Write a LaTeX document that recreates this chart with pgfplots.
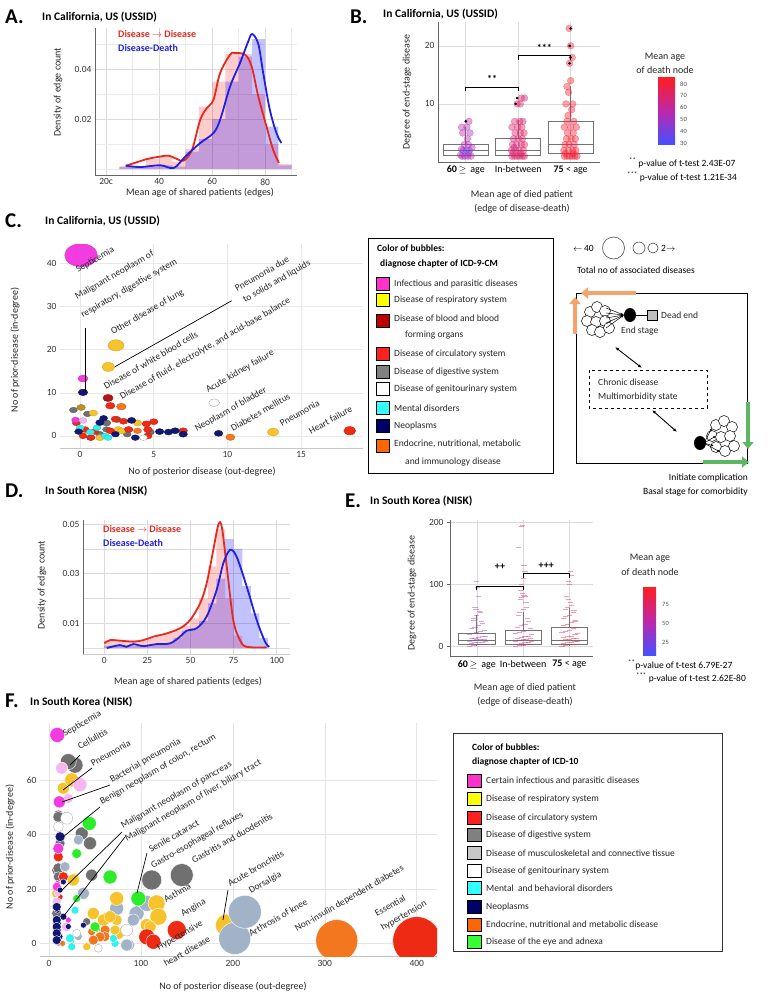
\documentclass[border=0pt]{standalone}
\usepackage{pgfplots}
\pgfplotsset{compat=1.18}
\usepgfplotslibrary{statistics}
\usetikzlibrary{arrows.meta}
\usepackage{fontspec}
\setmainfont{Carlito}
\newcommand{\fs}[1]{\fontsize{#1}{#1}\selectfont}
\definecolor{cMag}{HTML}{F23CE0}
\definecolor{cPinkL}{HTML}{F6B6EE}
\definecolor{cYel}{HTML}{F6C32C}
\definecolor{cRed}{HTML}{EE2A14}
\definecolor{cDRed}{HTML}{B3161A}
\definecolor{cGry}{HTML}{707070}
\definecolor{cStl}{HTML}{A2B3C8}
\definecolor{cNav}{HTML}{101870}
\definecolor{cCya}{HTML}{30F0F0}
\definecolor{cOrg}{HTML}{F2771E}
\definecolor{cGrn}{HTML}{2CEC2C}
\definecolor{lMag}{HTML}{FF33CC}
\definecolor{lYel}{HTML}{FFFF00}
\definecolor{lDRed}{HTML}{C00000}
\definecolor{lRed}{HTML}{FF2020}
\definecolor{lGry}{HTML}{808080}
\definecolor{lLGry}{HTML}{C8C8C8}
\definecolor{lCya}{HTML}{33FFFF}
\definecolor{lNav}{HTML}{000066}
\definecolor{lOrg}{HTML}{FF6600}
\definecolor{lGrn}{HTML}{33FF33}
\definecolor{kdeR}{HTML}{E8281E}
\definecolor{kdeB}{HTML}{2020E0}
\definecolor{cbB}{RGB}{70,80,255}
\definecolor{cbP}{RGB}{190,40,170}
\definecolor{cbR}{RGB}{255,30,30}
\definecolor{arO}{HTML}{F4A46A}
\definecolor{arG}{HTML}{5DB760}
\pgfplotsset{
  base/.style={scale only axis, anchor=south west,
    /pgf/number format/assume math mode=true,
    tick label style={font=\fs{9.5}, text=black!80},
    grid style={black!14, line width=0.6pt},
    minor grid style={black!8, line width=0.5pt},
    major tick length=0pt, minor tick length=0pt,
    axis line style={black!60, line width=0.9pt},
    scaled ticks=false, clip marker paths=true},
  bub/.style 2 args={only marks, scatter, mark=*,
    scatter/use mapped color={draw=#2, fill=#1},
    visualization depends on={\thisrow{r} \as \bubsz},
    scatter/@pre marker code/.append style={/tikz/mark size=\bubsz}},
  agecm/.style={colormap={agecm}{rgb255=(70,80,255) rgb255=(190,40,170) rgb255=(255,30,30)}},
  bxp/.style={draw=black!55, line width=0.7pt, boxplot/draw direction=y, boxplot prepared={#1, whisker extend=0}},
}
\tikzset{
  blab/.style={anchor=base west, rotate=30, font=\fs{9.5}, inner sep=0pt, text=black!85},
  ttl/.style={anchor=base west, font=\fs{11.5}\bfseries, inner sep=0pt},
  let/.style={anchor=base west, font=\fs{21}\bfseries, inner sep=0pt},
  lab/.style={font=\fs{10}, text=black!85, inner sep=0pt},
  leg/.style={anchor=west, font=\fs{9.5}, inner sep=0pt, text=black!85},
}
\begin{document}
\begin{tikzpicture}[x=1pt,y=1pt]
\path[use as bounding box] (0,0) rectangle (768,-999);

% ================= PANEL A =================
\node[let] at (5,-23) {A.};
\node[ttl] at (42,-20) {In California, US (USSID)};
\begin{axis}[base, at={(95pt,-175pt)}, width=202pt, height=147pt,
  xmin=15.8, xmax=92, ymin=-0.0024, ymax=0.0564, axis lines*=left,
  xtick={20,40,60,80}, xticklabels={20c,40,60,80},
  ytick={0.02,0.04}, yticklabels={0.02,0.04},
  minor xtick={30,50,70,90}, minor ytick={0,0.01,0.03,0.05},
  xmajorgrids, ymajorgrids, xminorgrids, yminorgrids]
\addplot[const plot mark left, fill=red, fill opacity=0.2, draw=none] coordinates {(25,0.001)(30,0.001)(35,0.004)(40,0.005)(45,0.003)(50,0.008)(55,0.025)(60,0.035)(65,0.046)(70,0.046)(75,0.03)(80,0.01)(85,0.002)(90,0)} \closedcycle;
\addplot[const plot mark left, fill=blue, fill opacity=0.24, draw=none] coordinates {(25,0.001)(30,0.0008)(35,0.001)(40,0.0015)(45,0.001)(50,0.007)(55,0.012)(60,0.02)(65,0.035)(70,0.045)(75,0.052)(80,0.017)(85,0.0015)(90,0)} \closedcycle;
\addplot[kdeR, line width=1.8pt, smooth, tension=0.55] coordinates {(27.4,0.0013)(31,0.0025)(35.5,0.004)(40.5,0.005)(43.6,0.0053)(46.75,0.004)(49.25,0.0033)(52.4,0.0077)(55.5,0.0197)(58,0.0244)(60.5,0.0277)(63,0.0384)(66.75,0.0457)(68.6,0.0464)(72.4,0.0457)(74.9,0.041)(77.4,0.029)(80.5,0.017)(83,0.0077)(85.2,0.0024)};
\addplot[kdeB, line width=1.8pt, smooth, tension=0.55] coordinates {(27.4,0.0013)(33,0.0008)(40.5,0.0015)(45.5,0.0004)(49.9,0.005)(55.5,0.0104)(60.5,0.0144)(63,0.0197)(66.75,0.033)(70.5,0.0424)(73.6,0.051)(75.1,0.054)(77.4,0.050)(79.25,0.0384)(81.75,0.0237)(84.25,0.0144)(86.1,0.0104)};
\end{axis}
\node[anchor=base west, font=\fs{10}\bfseries, text=kdeR, inner sep=0] at (118,-37) {Disease $\rightarrow$ Disease};
\node[anchor=base west, font=\fs{10}\bfseries, text=kdeB, inner sep=0] at (118,-51) {Disease-Death};
\node[lab, rotate=90] at (58,-92) {Density of edge count};
\node[lab] at (200,-193) {Mean age of shared patients (edges)};

% ================= PANEL B =================
\node[let] at (350,-23) {B.};
\node[ttl] at (383,-17) {In California, US (USSID)};
\begin{axis}[base, agecm, at={(438pt,-162pt)}, width=162pt, height=140pt,
  xmin=0.47, xmax=3.56, ymin=0, ymax=24.1, axis lines*=left,
  xtick={1,2,3}, xticklabels={{\textbf{60}\,$\geq$\, age}, {In-between}, {\textbf{75} < age}},
  xticklabel style={font=\fs{10}, text=black},
  ytick={10,20}, xmajorgrids, ymajorgrids,
  point meta min=28, point meta max=86]
\addplot[bxp={draw position=1, lower whisker=1, lower quartile=1.2, median=2, upper quartile=3, upper whisker=6, box extend=0.86}] coordinates {};
\addplot[bxp={draw position=2, lower whisker=1, lower quartile=1.2, median=2, upper quartile=4.1, upper whisker=7.2, box extend=0.86}] coordinates {};
\addplot[bxp={draw position=3, lower whisker=1.4, lower quartile=1.45, median=3, upper quartile=7, upper whisker=13, box extend=0.86}] coordinates {};
\addplot[scatter, only marks, mark=*, mark size=3.4pt, opacity=0.42, point meta=explicit,
  scatter/use mapped color={draw=mapped color, fill=mapped color}] table[x=x, y=y, meta=c, row sep=\\] {
x y c\\
0.93 1 52\\ 0.98 1 56\\ 1.04 1 50\\ 1.10 1 58\\ 0.90 1.2 54\\ 1.06 1.5 47\\ 0.95 2 38\\ 1.01 2 33\\ 1.07 2 44\\ 0.92 2.2 55\\ 1.12 2.5 50\\ 0.97 3 53\\ 1.05 3 57\\ 1.03 4 55\\ 0.94 5 56\\ 1.08 5 52\\ 0.92 6 57\\ 1.02 6 55\\ 1.06 7 58\\
1.88 1 68\\ 1.93 1 70\\ 1.98 1 72\\ 2.03 1 66\\ 2.08 1 74\\ 2.12 1 69\\ 1.90 1.5 71\\ 2.05 1.5 73\\ 1.87 2 65\\ 1.95 2 70\\ 2.02 2 68\\ 2.10 2 72\\ 1.92 2.5 67\\ 1.89 3 71\\ 1.97 3 64\\ 2.06 3 70\\ 2.12 3 73\\ 1.91 4 66\\ 2.00 4 72\\ 2.08 4 69\\ 1.94 5 70\\ 2.04 5 67\\ 2.11 5 74\\ 1.88 6 68\\ 1.99 6 71\\ 2.07 6 73\\ 1.93 7 66\\ 2.03 7 70\\ 2.09 7 69\\ 1.98 10 72\\ 2.04 10 68\\ 2.06 11 71\\ 2.12 11 65\\
2.88 1 80\\ 2.93 1 82\\ 2.98 1 78\\ 3.03 1 84\\ 3.08 1 81\\ 3.12 1 79\\ 2.90 1.5 83\\ 3.05 1.5 80\\ 2.87 2 82\\ 2.96 2 79\\ 3.04 2 85\\ 3.10 2 81\\ 2.89 3 83\\ 2.97 3 80\\ 3.07 3 78\\ 2.92 4 82\\ 3.01 4 84\\ 3.09 4 80\\ 2.94 5 81\\ 3.05 5 79\\ 2.88 6 83\\ 3.00 6 80\\ 3.11 6 82\\ 2.93 7 84\\ 3.06 7 79\\ 2.95 8 82\\ 3.02 9 80\\ 2.91 10 83\\ 3.04 10 81\\ 2.96 12 80\\ 2.93 13 82\\ 3.00 14 84\\ 2.98 17 79\\ 3.03 18 81\\ 3.00 20 83\\ 2.97 23 80\\
};
\addplot[only marks, mark=*, mark size=1.1pt, black] coordinates {(1.0,7)(1.95,10)(1.98,11)(2.98,17)(3.0,18)(2.98,20)(3.0,23)};
\draw[black, line width=0.8pt] (axis cs:1,12.2) -- (axis cs:1,12.9) -- (axis cs:2,12.9) -- (axis cs:2,12.2);
\draw[black, line width=0.8pt] (axis cs:2,17.6) -- (axis cs:2,18.3) -- (axis cs:3,18.3) -- (axis cs:3,17.6);
\node[font=\fs{10}\bfseries] at (axis cs:1.5,14.3) {**};
\node[font=\fs{10}\bfseries] at (axis cs:2.5,19.6) {***};
\end{axis}
\node[lab, rotate=90] at (407,-92) {Degree of end-stage disease};
\node[lab] at (522,-195) {Mean age of died patient};
\node[lab] at (522,-209) {(edge of disease-death)};
\node[lab] at (665,-57) {Mean age};
\node[lab] at (665,-70) {of death node};
\shade[bottom color=cbB, top color=cbR, middle color=cbP] (658,-144) rectangle (675,-77);
\foreach \v/\yy in {30/143,40/131.2,50/119.4,60/107.6,70/95.8,80/84} {
  \node[anchor=west, font=\fs{6.5}, text=black!70, inner sep=0] at (680,-\yy) {\v};
}
\node[anchor=base west, font=\fs{9.5}, inner sep=0] at (629,-166) {\textsuperscript{**} p-value of t-test 2.43E-07};
\node[anchor=base west, font=\fs{9.5}, inner sep=0] at (627,-180) {\textsuperscript{***} p-value of t-test 1.21E-34};

% ================= PANEL C =================
\node[let] at (5,-227) {C.};
\node[ttl] at (45,-224) {In California, US (USSID)};
\begin{axis}[base, at={(60pt,-448pt)}, width=303pt, height=204pt,
  xmin=-1.36, xmax=19.2, ymin=-2.8, ymax=44.5, axis lines*=left,
  y axis line style={draw=none}, x axis line style={black!22},
  xtick={0,5,10,15}, ytick={0,10,20,30,40},
  xmajorgrids, ymajorgrids, grid style={black!9},
  every axis plot/.append style={mark options={xscale=1.42}}]
\addplot[bub={cGry}{cGry!85!black}] table[row sep=\\] {x y r\\ -0.45 6.0 2.8\\ 0.5 5.1 2.8\\ 1.35 0.4 2.8\\ 1.8 3.0 3\\ 2.5 3.8 3\\ 0.7 -0.4 2.8\\ 4.75 0.9 3\\ 3.2 0.4 2.8\\ 1.8 1.5 2.8\\};
\addplot[bub={cYel}{cYel!85!black}] table[row sep=\\] {x y r\\ 2.44 21 5.6\\ 1.92 16 4.5\\ 13.1 0.9 4\\ 0.9 5.3 3\\ 3.9 3.0 3\\ 2.6 1.5 3\\ 1.35 -0.4 3\\ 2.85 1.2 3\\ 0.3 1.2 3\\};
\addplot[bub={cYel!75!black}{cYel!60!black}] table[row sep=\\] {x y r\\ 0.07 6.6 3\\};
\addplot[bub={cRed}{cRed!85!black}] table[row sep=\\] {x y r\\ 18.3 1.2 4.2\\ 2.05 7.0 3.3\\ 2.05 1.2 3\\ 2.4 3.9 3\\ 2.95 3.4 3\\ 3.3 1.5 3\\ 4.6 0.0 3\\ 4.5 2.8 3\\ 5.0 3.3 3\\ 4.6 1.5 3\\ 7.0 1.2 3\\ -0.25 3.0 2.8\\ 0.35 1.5 2.8\\ 1.0 1.0 2.8\\ 0.2 0.0 2.8\\ 0.75 -0.4 2.8\\};
\addplot[bub={cDRed}{cDRed!85!black}] table[row sep=\\] {x y r\\ 1.9 8.8 3.6\\};
\addplot[bub={cOrg}{cOrg!85!black}] table[row sep=\\] {x y r\\ 2.8 6.8 3.4\\ 10.2 -0.3 3.2\\ 3.9 1.2 2.8\\};
\addplot[bub={white}{black!35}] table[row sep=\\] {x y r\\ 9.1 7.7 3.8\\ 4.3 -0.4 2.8\\};
\addplot[bub={cMag}{cMag!85!black}] table[row sep=\\] {x y r\\ 0.07 41.9 11.5\\ 0.2 13.3 3.5\\ -0.3 3.7 2.8\\};
\addplot[bub={cPinkL}{cPinkL!85!black}] table[row sep=\\] {x y r\\ 0.2 3.6 2.8\\};
\addplot[bub={cCya}{cCya!85!black}] table[row sep=\\] {x y r\\ 0.0 1.9 2.8\\ 0.7 0.9 2.8\\ 1.15 1.9 2.8\\ 1.7 0.0 2.8\\ 1.9 -0.4 2.8\\};
\addplot[bub={cNav}{cNav!85!black}] table[row sep=\\] {x y r\\ 0.2 10.1 3.3\\ 9.4 0.6 3\\ -0.1 1.0 2.8\\ 1.35 3.1 3\\ 1.6 4.1 2.8\\ 3.5 3.6 3\\ 2.4 0.4 2.8\\ 3.75 -0.4 2.8\\ 5.4 1.0 3\\ 6.0 0.9 3\\ 6.45 1.2 3\\ 7.0 0.4 3\\};
\end{axis}
\node[lab, rotate=90] at (15,-350) {No of prior-disease (in-degree)};
\node[lab] at (202,-472) {No of posterior disease (out-degree)};
\node[blab] at (78,-273) {Septicemia};
\node[blab] at (77,-300) {Malignant neoplasm of};
\node[blab] at (83,-318) {respiratory, digestive system};
\node[blab] at (113,-335) {Other disease of lung};
\node[blab] at (237,-292) {Pneumonia due};
\node[blab] at (245,-303) {to solids and liquids};
\node[blab] at (106,-390) {Disease of white blood cells};
\node[blab] at (122,-400) {Disease of fluid, electrolyte, and acid-base balance};
\node[blab] at (208,-393) {Acute kidney failure};
\node[blab] at (197,-432) {Neoplasm of bladder};
\node[blab] at (233,-432) {Diabetes mellitus};
\node[blab] at (282,-427) {Pneumonia};
\node[blab] at (311,-435) {Heart failure};
\draw[black, line width=0.7pt] (85.7,-328) -- (85.7,-392);
\draw[black, line width=0.7pt] (231.7,-300.7) -- (115,-366.7);

% C legend
\draw[black, line width=0.8pt] (368,-238) rectangle (553,-473);
\node[anchor=base west, font=\fs{9.5}\bfseries, inner sep=0] at (377,-251) {Color of bubbles:};
\node[anchor=base west, font=\fs{9.5}\bfseries, inner sep=0] at (380,-266) {diagnose chapter of ICD-9-CM};
\foreach \c/\yy/\t in {lMag/284/Infectious and parasitic diseases, lYel/300/Disease of respiratory system, lDRed/318/Disease of blood and blood, lRed/354/Disease of circulatory system, lGry/372/Disease of digestive system, white/389/Disease of genitourinary system, lCya/408/Mental disorders, lNav/426/Neoplasms, lOrg/444/{Endocrine, nutritional, metabolic}} {
  \node[leg] at (394,-\yy) {\t};
}
\foreach \c/\yy in {lMag/284, lYel/300, lDRed/321, lRed/354, lGry/372, white/389, lCya/408, lNav/426, lOrg/446} {
  \draw[black, line width=0.7pt, fill=\c] (376,-\yy+6.5) rectangle (389,-\yy-6.5);
}
\node[leg] at (405,-335) {forming organs};
\node[leg] at (405,-462) {and immunology disease};

% size legend and diagram
\node[anchor=base west, font=\fs{9.5}, inner sep=0] at (573,-251.5) {$\leftarrow$\,40};
\draw[black!70, line width=0.6pt] (613.5,-248) circle (11);
\draw[black!70, line width=0.6pt] (639,-248) circle (6);
\draw[black!70, line width=0.6pt] (653,-248) circle (5);
\node[anchor=base west, font=\fs{9.5}, inner sep=0] at (661,-251.5) {2$\rightarrow$};
\node[font=\fs{9.5}, inner sep=0] at (636,-270) {Total no of associated diseases};
\draw[black, line width=0.7pt] (576,-293) rectangle (747,-463);
\draw[-{Triangle[length=7pt,width=11pt]}, line width=4pt, arO] (636,-293) -- (581,-293);
\draw[-{Triangle[length=7pt,width=11pt]}, line width=4pt, arO] (575,-334) -- (575,-297);
\draw[-{Triangle[length=7pt,width=11pt]}, line width=4pt, arG] (748,-402) -- (748,-449);
\draw[-{Triangle[length=7pt,width=11pt]}, line width=4pt, arG] (703,-462) -- (749,-462);
\foreach \px/\py in {590/312,597/307,605/311,587/321,596/322,605/321,592/330,600/332,609/328} {
  \draw[black, fill=white, line width=0.5pt] (\px,-\py) circle (5.5);
}
\foreach \py in {308,313,318,323,328} { \draw[-{Latex[length=3pt]}, line width=0.5pt] (606,-\py) -- (624,-315); }
\fill[black] (630,-315) ellipse (6 and 7);
\draw[black, line width=0.7pt] (636,-315) -- (647,-315);
\draw[black, fill=black!25, line width=0.6pt] (647,-310) rectangle (657,-320);
\node[leg] at (661,-315) {Dead end};
\node[leg] at (621,-331) {End stage};
\draw[{Latex[length=4pt]}-{Latex[length=4pt]}, line width=0.9pt] (615,-347) -- (642,-368);
\draw[black, dashed, line width=0.7pt] (589,-370) rectangle (707,-408);
\node[leg] at (598,-382) {Chronic disease};
\node[leg] at (598,-397) {Multimorbidity state};
\draw[{Latex[length=4pt]}-{Latex[length=4pt]}, line width=0.9pt] (652,-410) -- (677,-432);
\foreach \px/\py in {716/425,724/421,732/427,712/436,721/437,730/436,716/447,725/451,734/446} {
  \draw[black, fill=white, line width=0.5pt] (\px,-\py) circle (5.5);
}
\foreach \px/\py in {712/428,716/436,714/446,720/452} { \draw[-{Latex[length=3pt]}, line width=0.5pt] (704,-443) -- (\px,-\py); }
\fill[black] (700,-443) ellipse (6 and 7);
\node[anchor=base east, font=\fs{9.5}, inner sep=0] at (748,-480) {Initiate complication};
\node[anchor=base east, font=\fs{9.5}, inner sep=0] at (748,-494) {Basal stage for comorbidity};

% ================= PANEL D =================
\node[let] at (5,-497) {D.};
\node[ttl] at (45,-494) {In South Korea (NISK)};
\begin{axis}[base, at={(83pt,-654pt)}, width=207pt, height=134pt,
  xmin=-12.4, xmax=107.7, ymin=-0.0024, ymax=0.0517, axis lines*=left,
  x axis line style={black!20},
  xtick={0,25,50,75,100}, ytick={0.01,0.03,0.05}, yticklabels={0.01,0.03,0.05},
  minor ytick={0,0.02,0.04}, xmajorgrids, ymajorgrids, yminorgrids, minor grid style={black!14, line width=0.6pt}]
\addplot[const plot mark left, fill=red, fill opacity=0.2, draw=none] coordinates {(0,0.003)(5,0.003)(10,0.003)(15,0.003)(20,0.003)(25,0.004)(30,0.005)(35,0.006)(40,0.007)(45,0.009)(50,0.012)(55,0.02)(60,0.033)(65,0.048)(70,0.02)(75,0.005)(80,0.001)(85,0.0005)(90,0.0003)(95,0)} \closedcycle;
\addplot[const plot mark left, fill=blue, fill opacity=0.24, draw=none] coordinates {(0,0.001)(5,0.001)(10,0.001)(15,0.001)(20,0.001)(25,0.0015)(30,0.0015)(35,0.002)(40,0.004)(45,0.007)(50,0.008)(55,0.011)(60,0.018)(65,0.028)(70,0.044)(75,0.04)(80,0.025)(85,0.014)(90,0.004)(95,0)} \closedcycle;
\addplot[kdeR, line width=1.8pt, smooth, tension=0.55] coordinates {(0,0.0019)(3.3,0.0032)(9,0.003)(16.8,0.0026)(22.6,0.0032)(28.4,0.0046)(36.1,0.0059)(43.9,0.008)(49.7,0.0113)(55.5,0.018)(59.3,0.026)(63.2,0.0396)(66.1,0.0497)(68.1,0.049)(71,0.0329)(74.8,0.0113)(78.7,0.0032)(82.6,0.0005)(94.2,0.0003)};
\addplot[kdeB, line width=1.8pt, smooth, tension=0.55] coordinates {(1.4,0.0)(9,0.0012)(12.8,0.0005)(16.8,0.0016)(22.6,0.0008)(30.3,0.0016)(38.1,0.0019)(43.9,0.0046)(47.7,0.007)(53.5,0.008)(59.3,0.0127)(65.1,0.0234)(69,0.0342)(72.9,0.0396)(76.7,0.0369)(82.6,0.0248)(88.4,0.0113)(93.2,0.0026)(95.7,0.0005)};
\end{axis}
\node[anchor=base west, font=\fs{10}\bfseries, text=kdeR, inner sep=0] at (103,-532) {Disease $\rightarrow$ Disease};
\node[anchor=base west, font=\fs{10}\bfseries, text=kdeB, inner sep=0] at (103,-546) {Disease-Death};
\node[lab, rotate=90] at (42,-585) {Density of edge count};
\node[lab] at (188,-682) {Mean age of shared patients (edges)};

% ================= PANEL E =================
\node[let] at (345,-507) {E.};
\node[ttl] at (370,-504) {In South Korea (NISK)};
\begin{axis}[base, agecm, at={(450pt,-656.7pt)}, width=143pt, height=136.7pt,
  xmin=0.42, xmax=3.51, ymin=-17.3, ymax=204, axis lines*=left,
  xtick={1,2,3}, xticklabels={{\textbf{60}\,$\geq$\, age}, {In-between}, {\textbf{75} < age}},
  xticklabel style={font=\fs{10}, text=black},
  ytick={0,100,200}, ytick style={black!60, line width=0.7pt}, ytick align=outside, major tick length=3pt, xtick style={draw=none},
  xmajorgrids, ymajorgrids, point meta min=8, point meta max=98]
\addplot[bxp={draw position=1, lower whisker=0, lower quartile=3, median=9, upper quartile=21, upper whisker=50, box extend=0.78}] coordinates {};
\addplot[bxp={draw position=2, lower whisker=0, lower quartile=3, median=9, upper quartile=25, upper whisker=55, box extend=0.78}] coordinates {};
\addplot[bxp={draw position=3, lower whisker=0, lower quartile=3, median=9, upper quartile=30, upper whisker=62, box extend=0.78}] coordinates {};
\addplot[scatter, only marks, mark=-, mark size=2.6pt, line width=0.9pt, opacity=0.45, point meta=explicit,
  scatter/use mapped color={draw=mapped color}] table[x=x, y=y, meta=c, row sep=\\] {
x y c\\
0.84 0 45\\ 0.92 1 50\\ 1.00 2 42\\ 1.08 2 52\\ 1.16 3 48\\ 0.88 4 55\\ 0.96 5 40\\ 1.04 5 47\\ 1.12 6 53\\ 1.18 7 44\\
0.84 8 45\\ 0.92 9 50\\ 1.00 10 42\\ 1.08 10 52\\ 1.16 11 48\\ 0.88 12 55\\ 0.96 13 40\\ 1.04 14 47\\ 1.12 15 53\\ 1.18 16 44\\
0.84 18 45\\ 0.92 20 50\\ 1.00 22 42\\ 1.08 24 52\\ 1.16 25 48\\ 0.88 28 55\\ 0.96 30 40\\ 1.04 33 47\\ 1.12 36 53\\ 1.10 40 44\\
0.94 42 45\\ 0.92 45 50\\ 1.00 50 42\\ 1.08 55 52\\ 1.06 56 48\\ 0.98 60 55\\ 0.96 62 40\\ 1.04 80 47\\ 1.02 95 53\\ 1.00 105 44\\
1.84 0 70\\ 1.92 1 65\\ 2.00 1 74\\ 2.08 2 68\\ 2.16 3 72\\ 1.88 3 66\\ 1.96 4 75\\ 2.04 5 69\\ 2.12 6 71\\ 2.18 7 67\\
1.84 8 70\\ 1.92 9 65\\ 2.00 10 74\\ 2.08 11 68\\ 2.16 12 72\\ 1.88 13 66\\ 1.96 14 75\\ 2.04 15 69\\ 2.12 16 71\\ 2.18 18 67\\
1.84 20 70\\ 1.92 22 65\\ 2.00 24 74\\ 2.08 26 68\\ 2.16 28 72\\ 1.88 30 66\\ 1.96 33 75\\ 2.04 35 69\\ 2.12 40 71\\ 2.10 45 67\\
1.90 50 70\\ 1.92 55 65\\ 2.00 60 74\\ 2.08 62 68\\ 2.06 70 72\\ 1.94 75 66\\ 1.96 78 75\\ 2.04 80 69\\ 2.02 82 71\\ 1.98 85 67\\
1.94 90 70\\ 1.96 100 65\\ 2.00 110 74\\ 2.04 120 68\\ 2.02 130 72\\ 1.90 160 66\\ 1.96 193 75\\ 1.98 195 69\\
2.84 0 85\\ 2.92 1 80\\ 3.00 2 90\\ 3.08 3 82\\ 3.16 3 88\\ 2.88 4 84\\ 2.96 5 92\\ 3.04 6 81\\ 3.12 7 86\\ 3.18 8 83\\
2.84 9 85\\ 2.92 10 80\\ 3.00 11 90\\ 3.08 12 82\\ 3.16 13 88\\ 2.88 14 84\\ 2.96 15 92\\ 3.04 16 81\\ 3.12 18 86\\ 3.18 20 83\\
2.84 22 85\\ 2.92 24 80\\ 3.00 26 90\\ 3.08 28 82\\ 3.16 30 88\\ 2.88 33 84\\ 2.96 35 92\\ 3.04 38 81\\ 3.12 40 86\\ 3.14 42 83\\
2.88 45 85\\ 2.92 48 80\\ 3.00 50 90\\ 3.08 55 82\\ 3.10 58 88\\ 2.92 60 84\\ 2.96 62 92\\ 3.04 65 81\\ 3.02 70 86\\ 2.98 75 83\\
2.94 80 85\\ 3.00 100 80\\ 2.98 105 90\\ 3.04 115 82\\ 3.02 120 88\\
};
\draw[black, line width=0.8pt] (axis cs:1,90) -- (axis cs:1,97) -- (axis cs:2,97) -- (axis cs:2,90);
\draw[black, line width=0.8pt] (axis cs:2,110) -- (axis cs:2,117) -- (axis cs:3,117) -- (axis cs:3,110);
\node[font=\fs{10}\bfseries] at (axis cs:1.5,128) {++};
\node[font=\fs{10}\bfseries] at (axis cs:2.5,130) {+++};
\end{axis}
\node[lab, rotate=90] at (412,-593) {Degree of end-stage disease};
\node[lab] at (525,-688) {Mean age of died patient};
\node[lab] at (525,-702) {(edge of disease-death)};
\node[lab] at (650,-558) {Mean age};
\node[lab] at (650,-572) {of death node};
\shade[bottom color=cbB, top color=cbR, middle color=cbP] (643,-655) rectangle (656,-587);
\foreach \v/\yy in {25/642.3,50/623.3,75/604.3} {
  \node[anchor=west, font=\fs{6.5}, text=black!70, inner sep=0] at (662,-\yy) {\v};
}
\node[anchor=base west, font=\fs{9.5}, inner sep=0] at (628,-668) {\textsuperscript{**}p-value of t-test 6.79E-27};
\node[anchor=base west, font=\fs{9.5}, inner sep=0] at (636,-681) {\textsuperscript{***} p-value of t-test 2.62E-80};

% ================= PANEL F =================
\node[let] at (5,-707) {F.};
\node[ttl] at (30,-705) {In South Korea (NISK)};
\begin{axis}[base, at={(40pt,-956.7pt)}, width=397pt, height=233.7pt,
  xmin=-9.8, xmax=422, ymin=-4.9, ymax=81, axis lines*=left,
  y axis line style={draw=none}, x axis line style={black!25},
  xtick={0,100,200,300,400}, ytick={0,20,40,60},
  xmajorgrids, ymajorgrids, grid style={black!10}]
\addplot[bub={cYel}{white}] table[row sep=\\] {x y r\\ 193 6.7 11\\};
\addplot[bub={cGry}{white}] table[row sep=\\] {x y r\\ 144.4 25.1 11.5\\ 111.7 23.3 10\\ 28.3 65.5 8\\ 21 66.8 8\\ 10.2 47.2 5\\ 35.6 40.4 6.5\\ 44.6 36.8 6.5\\ 12 36.8 5\\ 10.2 31.8 5\\ 8.4 26.9 5\\ 12 25.1 5\\ 46.4 25.1 6\\ 41 8.0 4\\ 8.4 7.4 4\\ 10.1 46.5 5.5\\ 10.1 27.6 5.5\\ 10.1 24.5 5\\ 8.4 11.0 5\\};
\addplot[bub={cStl}{white}] table[row sep=\\] {x y r\\ 202 1.8 16\\ 213 11.6 16.5\\ 86.3 -0.6 6\\ 73.6 12.9 7\\ 95.3 11.0 7.5\\ 106.3 14.7 8\\ 31.9 38.0 5\\ 17.5 27.5 4\\ 37.4 18.3 5\\ 31.9 2.5 4\\ 10.2 0 3\\ 17.4 28.2 5\\ 37.3 18.4 6\\ 84.5 -0.6 6\\ 91.7 8.6 6\\};
\addplot[bub={cYel}{white}] table[row sep=\\] {x y r\\ 15.6 57 6\\ 24.7 60.1 7\\ 117 14.7 8.5\\ 119 9.8 8.5\\ 106.3 6.7 6.5\\ 73.6 16.5 7\\ 73.6 8.6 5.5\\ 62.7 9.2 6\\ 75.4 3.7 6\\ 71.8 4.9 5\\ 28.3 24.4 4\\ 9.1 20.1 4\\ 41 -1.2 4\\ 8.4 18.3 5\\ 26.4 23.3 6\\ 48.2 11 6\\ 59.1 8.6 6\\ 66.4 9.8 6\\ 110 6.1 6\\};
\addplot[bub={cRed}{white}] table[row sep=\\] {x y r\\ 400 1 24\\ 139 4.9 9.5\\ 106.3 2.4 8\\ 113.5 0.6 7.5\\ 12 17.1 3\\ 8.4 14.7 3\\ 10.1 31.8 5\\ 15.6 24.5 5\\};
\addplot[bub={cOrg}{white}] table[row sep=\\] {x y r\\ 313 1 21\\ 60.9 4.9 5\\ 60.9 2.5 5\\ 46.4 4.3 4\\ 24.7 1.2 3\\ 14.8 0 3\\ 55.5 2.4 5\\ 48.2 1.2 5\\};
\addplot[bub={cGrn}{white}] table[row sep=\\] {x y r\\ 97.2 16.5 7.5\\ 43.9 44.1 7\\ 66.4 24.4 7\\ 30.1 33.0 5\\ 30.1 16.5 4\\ 51.9 5.5 4\\ 50 6.1 5\\};
\addplot[bub={white}{black!30}] table[row sep=\\] {x y r\\ 19.2 46.0 6\\ 10.2 42.9 5\\ 84.5 4.9 6\\ 30.1 3.7 4\\ 53.7 -1.8 4\\};
\addplot[bub={cPinkL}{white}] table[row sep=\\] {x y r\\ 13.8 64.4 6\\ 33.7 58.3 7\\ 21 53.3 5\\ 9.1 18.3 3\\ 8.4 15.3 4.5\\ 19.2 6.1 5\\};
\addplot[bub={cMag}{white}] table[row sep=\\] {x y r\\ 9 76.6 7.5\\ 11.2 52 6\\ 8.4 34.9 4\\ 9.1 22.0 3\\ 21 8.6 3\\ 10.1 34.9 5.5\\ 8.4 20.8 4.5\\};
\addplot[bub={cCya}{white}] table[row sep=\\] {x y r\\ 28.3 12.2 4\\ 24.7 -1.2 4\\ 71.8 0.0 4\\ 70 1.8 4\\ 22.8 1.9 4.5\\};
\addplot[bub={cNav}{white}] table[row sep=\\] {x y r\\ 13.4 39.2 4\\ 15.6 22.6 3\\ 37.4 6.7 3\\ 21 6.2 3\\ 10.2 7.4 3\\ 10.2 4.9 3\\ 9.1 12.2 3\\ 12 2.5 3\\ 12 19.6 3\\ 15.6 9.8 3.5\\ 12 39.2 5\\ 8.4 13.4 4.5\\ 8.4 8.6 4.5\\ 8.4 6.1 4.5\\ 8.4 3.7 4.5\\ 8.4 1.2 4.5\\};
\end{axis}
\node[lab, rotate=90] at (10,-847) {No of prior-disease (in-degree)};
\node[lab] at (233,-987) {No of posterior disease (out-degree)};
\node[blab] at (65,-737) {Septicemia};
\node[blab] at (80,-750) {Cellulitis};
\node[blab] at (93,-767) {Pneumonia};
\node[blab] at (112,-783) {Bacterial pneumonia};
\node[blab] at (102,-805) {Benign neoplasm of colon, rectum};
\node[blab] at (123,-829) {Malignant neoplasm of pancreas};
\node[blab] at (127,-842) {Malignant neoplasm of liver, biliary tract};
\node[blab] at (151,-853) {Senile cataract};
\node[blab] at (153,-869) {Gastro-esophageal refluxes};
\node[blab] at (194,-864) {Gastritis and duodenitis};
\node[blab] at (166,-903) {Asthma};
\node[blab] at (183,-917) {Angina};
\node[blab] at (159,-951) {Hypertensive};
\node[blab] at (166,-967) {heart disease};
\node[blab] at (230,-887) {Acute bronchitis};
\node[blab] at (251,-894) {Dorsalgia};
\node[blab] at (251,-937) {Arthrosis of knee};
\node[blab] at (297,-932) {Non-insulin dependent diabetes};
\node[blab] at (377,-917) {Essential};
\node[blab] at (383,-931) {hypertension};
\draw[black, line width=0.7pt] (80,-755) -- (70,-765);
\draw[black, line width=0.7pt] (92,-768) -- (63,-790);
\draw[black, line width=0.7pt] (110,-785) -- (62,-802);
\draw[black, line width=0.7pt] (100,-807) -- (63,-837);
\draw[black, line width=0.7pt] (122,-832) -- (62,-890);
\draw[black, line width=0.7pt] (125,-837) -- (63,-917);
\draw[black, line width=0.7pt] (147,-853) -- (137,-893);
\draw[black, line width=0.7pt] (228,-890) -- (223,-920);

% F legend
\draw[black!80, line width=0.8pt] (453,-733) rectangle (722,-951);
\node[anchor=base west, font=\fs{9.5}\bfseries, inner sep=0] at (472,-750) {Color of bubbles:};
\node[anchor=base west, font=\fs{9.5}\bfseries, inner sep=0] at (472,-764) {diagnose chapter of ICD-10};
\foreach \c/\yy/\t in {lMag/781/Certain infectious and parasitic diseases, lYel/799/Disease of respiratory system, lRed/818/Disease of circulatory system, lGry/835/Disease of digestive system, lLGry/853/Disease of musculoskeletal and connective tissue, white/871/Disease of genitourinary system, lCya/888/Mental\ \ and behavioral disorders, lNav/907/Neoplasms, lOrg/925/{Endocrine, nutritional and metabolic disease}, lGrn/942/Disease of the eye and adnexa} {
  \draw[black, line width=0.7pt, fill=\c] (467,-\yy+6.5) rectangle (481,-\yy-6.5);
  \node[leg] at (486,-\yy) {\t};
}
\end{tikzpicture}
\end{document}
